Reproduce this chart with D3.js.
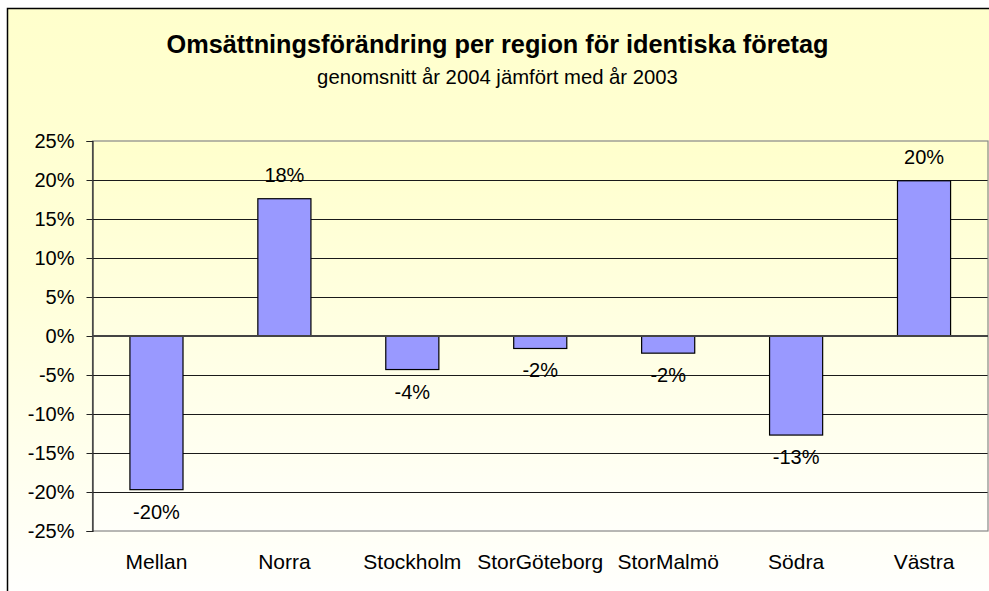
<!DOCTYPE html>
<html>
<head>
<meta charset="utf-8">
<script src="https://cdnjs.cloudflare.com/ajax/libs/d3/7.8.5/d3.min.js"></script>
<style>
  body { margin: 0; background: #fff; }
  text { font-family: "Liberation Sans", Arial, sans-serif; fill: #000; }
</style>
</head>
<body>
<script>
var categories = ['Mellan', 'Norra', 'Stockholm', 'StorGöteborg', 'StorMalmö', 'Södra', 'Västra'];
var values = [-0.197, 0.176, -0.043, -0.016, -0.022, -0.127, 0.199];
var labels = ['-20%', '18%', '-4%', '-2%', '-2%', '-13%', '20%'];
var yTicks = [0.25, 0.20, 0.15, 0.10, 0.05, 0, -0.05, -0.10, -0.15, -0.20, -0.25];

var w = 989, h = 591;
var plotLeft = 92.5, plotRight = 988, plotTop = 141, plotBottom = 531;

var svg = d3.select('body').append('svg')
  .attr('width', w)
  .attr('height', h);

var defs = svg.append('defs');
var grad = defs.append('linearGradient')
  .attr('id', 'plotbg')
  .attr('x1', 0).attr('y1', 0).attr('x2', 0).attr('y2', 1);
grad.append('stop').attr('offset', '0%').attr('stop-color', '#ffffcc');
grad.append('stop').attr('offset', '100%').attr('stop-color', '#fffffa');

var outerGrad = defs.append('linearGradient')
  .attr('id', 'outerbg')
  .attr('x1', 0).attr('y1', 0).attr('x2', 0).attr('y2', 1);
outerGrad.append('stop').attr('offset', '0%').attr('stop-color', '#ffffcc');
outerGrad.append('stop').attr('offset', '45%').attr('stop-color', '#ffffd8');
outerGrad.append('stop').attr('offset', '100%').attr('stop-color', '#ffffff');

// outer chart area
svg.append('rect')
  .attr('x', 7.5).attr('y', 8.5)
  .attr('width', w + 10).attr('height', h + 10)
  .attr('fill', 'url(#outerbg)')
  .attr('stroke', '#000')
  .attr('stroke-width', 1.5);

var x = d3.scaleBand()
  .domain(categories)
  .range([plotLeft, plotRight])
  .paddingInner(0.585)
  .paddingOuter(0.2925);

var y = d3.scaleLinear()
  .domain([-0.25, 0.25])
  .range([plotBottom, plotTop]);

svg.append('rect')
  .attr('x', plotLeft).attr('y', plotTop)
  .attr('width', plotRight - plotLeft).attr('height', plotBottom - plotTop)
  .attr('fill', 'url(#plotbg)');

// gridlines
svg.append('g')
  .selectAll('line')
  .data(yTicks.filter(function(d){ return d !== 0.25 && d !== -0.25 && d !== 0; }))
  .enter().append('line')
  .attr('x1', plotLeft).attr('x2', plotRight)
  .attr('y1', function(d){ return Math.round(y(d)) + 0.5; })
  .attr('y2', function(d){ return Math.round(y(d)) + 0.5; })
  .attr('stroke', '#1a1a1a')
  .attr('stroke-width', 1);

// plot border
svg.append('rect')
  .attr('x', plotLeft).attr('y', plotTop)
  .attr('width', plotRight - plotLeft).attr('height', plotBottom - plotTop)
  .attr('fill', 'none')
  .attr('stroke', '#888')
  .attr('stroke-width', 1.2);

// y axis
var yAxis = d3.axisLeft(y)
  .tickValues(yTicks)
  .tickSize(6)
  .tickPadding(12)
  .tickFormat(function(d){ return Math.round(d * 100) + '%'; });

var ga = svg.append('g')
  .attr('transform', 'translate(' + plotLeft + ',0)')
  .call(yAxis);
ga.select('.domain').attr('stroke', '#222').attr('stroke-width', 1.2);
ga.selectAll('.tick line').attr('stroke', '#222');
ga.selectAll('.tick text')
  .style('font-size', '20px')
  .style('font-family', '"Liberation Sans", Arial, sans-serif')
  .attr('fill', '#000');

// bars
svg.append('g')
  .selectAll('rect')
  .data(values)
  .enter().append('rect')
  .attr('x', function(d, i){ return x(categories[i]); })
  .attr('y', function(d){ return y(Math.max(0, d)); })
  .attr('width', x.bandwidth())
  .attr('height', function(d){ return Math.abs(y(d) - y(0)); })
  .attr('fill', '#9999ff')
  .attr('stroke', '#000')
  .attr('stroke-width', 1.2);

// zero line
svg.append('line')
  .attr('x1', plotLeft).attr('x2', plotRight)
  .attr('y1', y(0)).attr('y2', y(0))
  .attr('stroke', '#444')
  .attr('stroke-width', 2);

// value labels
svg.append('g')
  .selectAll('text')
  .data(values)
  .enter().append('text')
  .attr('x', function(d, i){ return x(categories[i]) + x.bandwidth() / 2; })
  .attr('y', function(d){ return d >= 0 ? y(d) - 17 : y(d) + 29; })
  .attr('text-anchor', 'middle')
  .style('font-size', '20px')
  .text(function(d, i){ return labels[i]; });

// category labels
svg.append('g')
  .selectAll('text')
  .data(categories)
  .enter().append('text')
  .attr('x', function(d){ return x(d) + x.bandwidth() / 2; })
  .attr('y', 569)
  .attr('text-anchor', 'middle')
  .style('font-size', '21px')
  .text(function(d){ return d; });

// titles
svg.append('text')
  .attr('x', 497.5).attr('y', 53)
  .attr('text-anchor', 'middle')
  .style('font-size', '25.3px')
  .style('font-weight', 'bold')
  .text('Omsättningsförändring per region för identiska företag');

svg.append('text')
  .attr('x', 497.5).attr('y', 84)
  .attr('text-anchor', 'middle')
  .style('font-size', '20.3px')
  .text('genomsnitt år 2004 jämfört med år 2003');
</script>
</body>
</html>
